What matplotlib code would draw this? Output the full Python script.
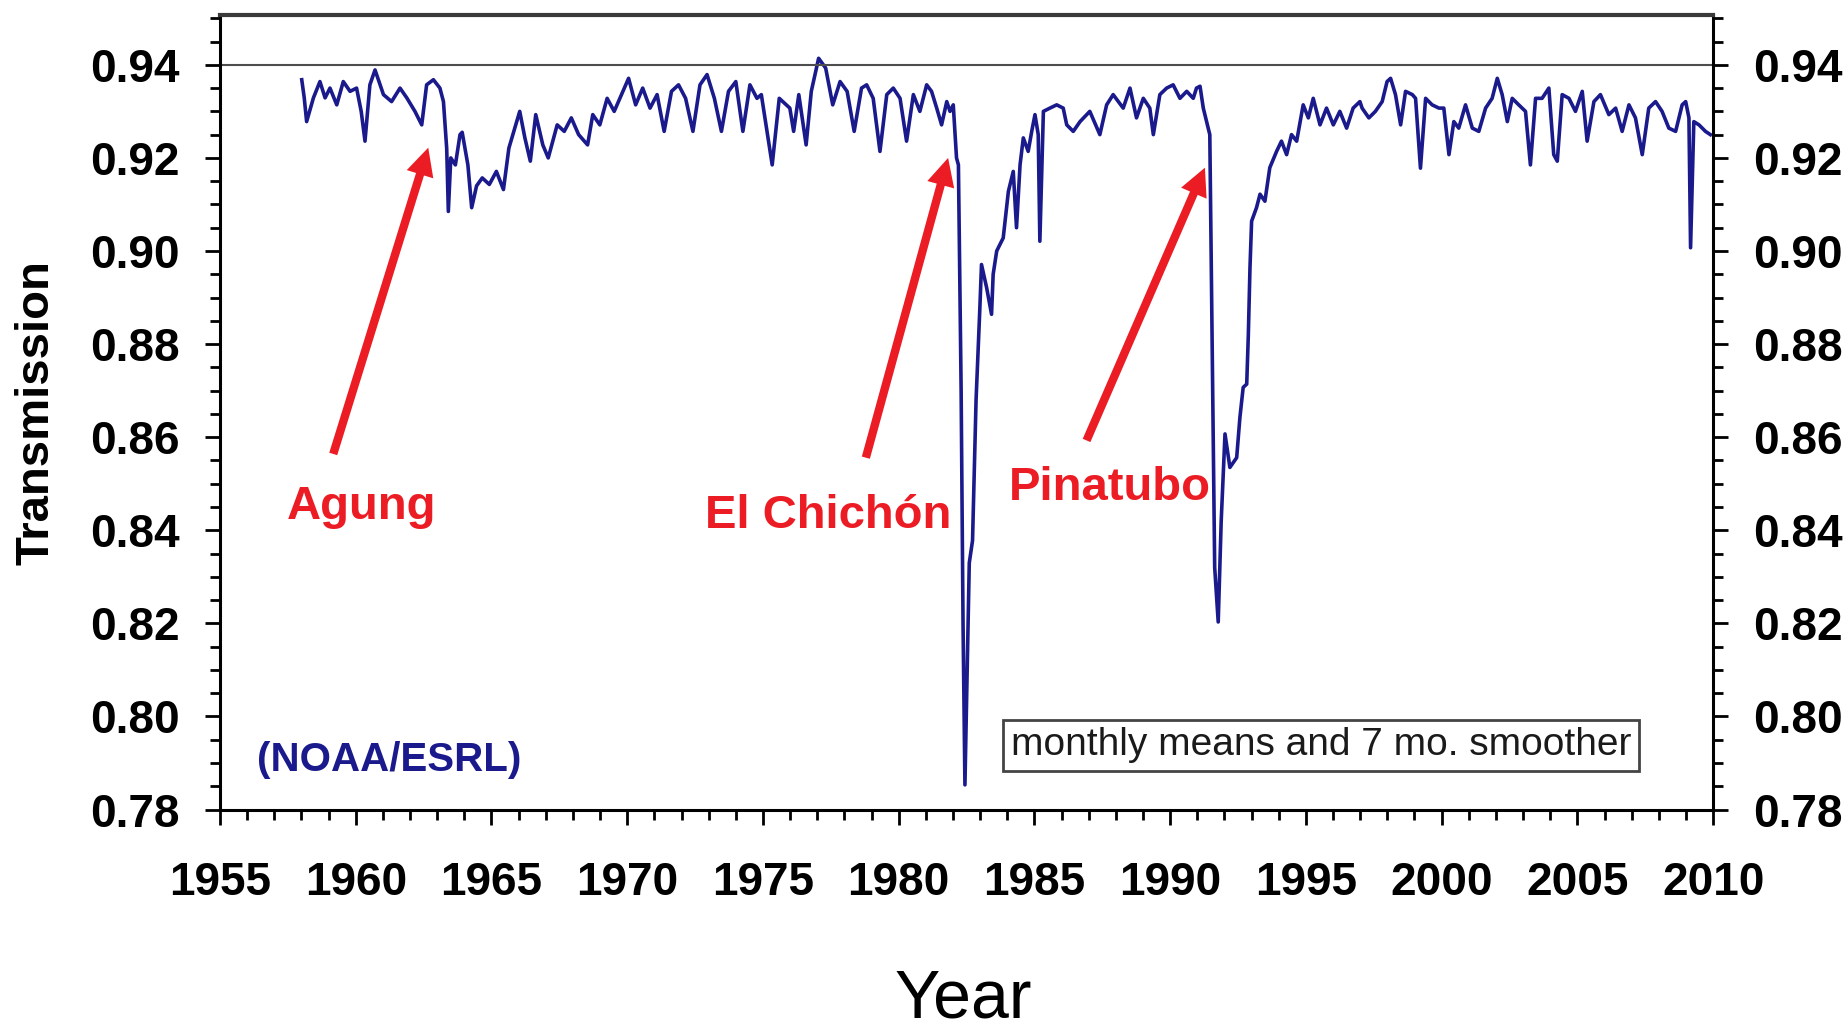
import numpy as np
import matplotlib.pyplot as plt
from matplotlib.ticker import MultipleLocator, FormatStrFormatter

plt.rcParams['font.family'] = ['Liberation Sans', 'DejaVu Sans']
plt.rcParams['font.weight'] = 'bold'

# Mauna Loa apparent transmission (decimal year, value)
years_pre_agung = [1958.01, 1958.10, 1958.19, 1958.44, 1958.68, 1958.87, 1959.05, 1959.30,
                   1959.54, 1959.79, 1960.03, 1960.20, 1960.34, 1960.52, 1960.71, 1961.02,
                   1961.32, 1961.63, 1961.88, 1962.18, 1962.43, 1962.61, 1962.86, 1963.10,
                   1963.23]
trans_pre_agung = [0.9368, 0.9330, 0.9278, 0.9329, 0.9364, 0.9329, 0.9350, 0.9314,
                   0.9364, 0.9343, 0.9350, 0.9300, 0.9236, 0.9357, 0.9389, 0.9336,
                   0.9321, 0.9350, 0.9329, 0.9300, 0.9271, 0.9357, 0.9368, 0.9350,
                   0.9321]

years_agung = [1963.35, 1963.41, 1963.50, 1963.67, 1963.84, 1963.92, 1964.13, 1964.27,
               1964.45, 1964.66, 1964.92, 1965.18, 1965.44, 1965.64, 1966.04, 1966.23,
               1966.43, 1966.63, 1966.89, 1967.09, 1967.42, 1967.68, 1967.94, 1968.21,
               1968.54, 1968.73, 1968.99, 1969.26, 1969.52, 1969.79]
trans_agung = [0.9220, 0.9085, 0.9200, 0.9185, 0.9250, 0.9255, 0.9185, 0.9093,
               0.9140, 0.9157, 0.9143, 0.9171, 0.9132, 0.9221, 0.9300, 0.9243,
               0.9193, 0.9293, 0.9228, 0.9200, 0.9271, 0.9257, 0.9286, 0.9250,
               0.9228, 0.9293, 0.9271, 0.9328, 0.9300, 0.9336]

years_seventies = [1970.05, 1970.31, 1970.57, 1970.84, 1971.10, 1971.36, 1971.63, 1971.89,
                   1972.15, 1972.42, 1972.68, 1972.94, 1973.21, 1973.47, 1973.73, 1974.00,
                   1974.26, 1974.52, 1974.78, 1974.94, 1975.34, 1975.60, 1975.99, 1976.13,
                   1976.32, 1976.59, 1976.78, 1977.05, 1977.31, 1977.57, 1977.84, 1978.10,
                   1978.36, 1978.63, 1978.82, 1979.06, 1979.31, 1979.56, 1979.80, 1980.05,
                   1980.29, 1980.54, 1980.78, 1981.03, 1981.21, 1981.40, 1981.58, 1981.77,
                   1981.89, 1982.01, 1982.13, 1982.20]
trans_seventies = [0.9371, 0.9314, 0.9350, 0.9307, 0.9336, 0.9257, 0.9343, 0.9357,
                   0.9328, 0.9257, 0.9357, 0.9379, 0.9328, 0.9257, 0.9343, 0.9364,
                   0.9257, 0.9357, 0.9328, 0.9336, 0.9185, 0.9328, 0.9307, 0.9257,
                   0.9336, 0.9228, 0.9343, 0.9414, 0.9393, 0.9314, 0.9364, 0.9343,
                   0.9257, 0.9350, 0.9357, 0.9328, 0.9214, 0.9336, 0.9350, 0.9328,
                   0.9236, 0.9336, 0.9300, 0.9357, 0.9343, 0.9307, 0.9271, 0.9321,
                   0.9300, 0.9314, 0.9200, 0.9185]

years_chichon = [1982.30, 1982.37, 1982.44, 1982.60, 1982.72, 1982.85, 1982.99, 1983.05,
                 1983.24, 1983.42, 1983.48, 1983.61, 1983.85, 1984.04, 1984.22, 1984.34,
                 1984.47, 1984.59, 1984.77, 1984.90, 1985.02, 1985.14, 1985.20, 1985.33,
                 1985.57, 1985.82, 1986.06, 1986.19, 1986.43, 1986.68, 1987.04, 1987.41,
                 1987.66, 1987.90, 1988.27, 1988.52, 1988.76, 1989.01, 1989.25, 1989.38,
                 1989.62, 1989.87, 1990.11, 1990.36, 1990.61, 1990.85, 1990.97, 1991.10,
                 1991.22, 1991.34, 1991.46]
trans_chichon = [0.8700, 0.8200, 0.7853, 0.8330, 0.8378, 0.8680, 0.8878, 0.8971,
                 0.8921, 0.8864, 0.8950, 0.9000, 0.9028, 0.9128, 0.9171, 0.9050,
                 0.9185, 0.9243, 0.9214, 0.9257, 0.9293, 0.9250, 0.9021, 0.9300,
                 0.9307, 0.9314, 0.9307, 0.9271, 0.9257, 0.9278, 0.9300, 0.9250,
                 0.9314, 0.9336, 0.9307, 0.9350, 0.9286, 0.9328, 0.9307, 0.9250,
                 0.9336, 0.9350, 0.9357, 0.9328, 0.9343, 0.9328, 0.9350, 0.9354,
                 0.9307, 0.9278, 0.9250]

years_pinatubo = [1991.55, 1991.64, 1991.77, 1991.88, 1992.02, 1992.20, 1992.45, 1992.57,
                  1992.69, 1992.82, 1992.88, 1992.94, 1993.00, 1993.18, 1993.31, 1993.49,
                  1993.67, 1993.92, 1994.10, 1994.29, 1994.47, 1994.66, 1994.90, 1995.09,
                  1995.27, 1995.52, 1995.76, 1996.01, 1996.25, 1996.50, 1996.74, 1996.99]
trans_pinatubo = [0.8780, 0.8320, 0.8203, 0.8420, 0.8607, 0.8535, 0.8556, 0.8643,
                  0.8707, 0.8714, 0.8821, 0.8964, 0.9064, 0.9093, 0.9122, 0.9107,
                  0.9179, 0.9214, 0.9236, 0.9207, 0.9250, 0.9236, 0.9314, 0.9286,
                  0.9328, 0.9271, 0.9307, 0.9271, 0.9300, 0.9264, 0.9307, 0.9321]

years_recent = [1997.07, 1997.32, 1997.56, 1997.81, 1997.99, 1998.12, 1998.30, 1998.49,
                1998.67, 1998.92, 1999.04, 1999.22, 1999.41, 1999.65, 1999.90, 2000.08,
                2000.27, 2000.45, 2000.63, 2000.88, 2001.13, 2001.37, 2001.62, 2001.86,
                2002.05, 2002.23, 2002.42, 2002.60, 2002.84, 2003.09, 2003.27, 2003.46,
                2003.70, 2003.95, 2004.13, 2004.26, 2004.44, 2004.69, 2004.93, 2005.18,
                2005.36, 2005.61, 2005.85, 2006.16, 2006.41, 2006.65, 2006.90, 2007.14,
                2007.39, 2007.63, 2007.88, 2008.12, 2008.37, 2008.62, 2008.86, 2008.99,
                2009.11, 2009.17, 2009.29, 2009.48, 2009.72, 2009.90]
trans_recent = [0.9307, 0.9286, 0.9300, 0.9321, 0.9364, 0.9371, 0.9336, 0.9271,
                0.9343, 0.9336, 0.9328, 0.9178, 0.9328, 0.9314, 0.9307, 0.9307,
                0.9207, 0.9278, 0.9264, 0.9314, 0.9264, 0.9257, 0.9307, 0.9328,
                0.9371, 0.9336, 0.9278, 0.9328, 0.9314, 0.9300, 0.9185, 0.9328,
                0.9328, 0.9350, 0.9207, 0.9193, 0.9336, 0.9328, 0.9300, 0.9343,
                0.9236, 0.9321, 0.9336, 0.9293, 0.9307, 0.9257, 0.9314, 0.9286,
                0.9207, 0.9307, 0.9321, 0.9300, 0.9264, 0.9257, 0.9314, 0.9321,
                0.9286, 0.9007, 0.9278, 0.9271, 0.9257, 0.9250]

years = np.concatenate([years_pre_agung, years_agung, years_seventies,
                        years_chichon, years_pinatubo, years_recent])
trans = np.concatenate([trans_pre_agung, trans_agung, trans_seventies,
                        trans_chichon, trans_pinatubo, trans_recent])

navy = '#1a1a8c'
red = '#ec1c24'

fig = plt.figure(figsize=(18.49, 10.36), dpi=100)
ax = fig.add_axes([0.119, 0.2186, 0.8075, 0.7669])

ax.plot(years, trans, color=navy, lw=2.6)
ax.axhline(0.94, color='#4d4d4d', lw=1.5)

ax.set_xlim(1955, 2010)
ax.set_ylim(0.78, 0.9507)

for side in ['left', 'right', 'bottom']:
    ax.spines[side].set_linewidth(2.2)
ax.spines['top'].set_linewidth(3)
ax.spines['top'].set_color('#3a3a3a')

ax.xaxis.set_major_locator(MultipleLocator(5))
ax.xaxis.set_minor_locator(MultipleLocator(1))
ax.yaxis.set_major_locator(MultipleLocator(0.02))
ax.yaxis.set_minor_locator(MultipleLocator(0.005))
ax.yaxis.set_major_formatter(FormatStrFormatter('%.2f'))

ax.tick_params(which='both', direction='out', width=2, top=False,
               left=True, right=True, labelleft=True, labelright=True)
ax.tick_params(which='major', length=11)
ax.tick_params(which='minor', length=7)
ax.tick_params(axis='y', pad=18, labelsize=33)
ax.tick_params(axis='x', pad=26, labelsize=33)

ax.set_ylabel('Transmission', fontsize=34, fontweight='bold')
ax.yaxis.set_label_coords(-0.1232, 0.5)
ax.yaxis.label.set_va('center')

ax.set_xlabel('Year', fontsize=49, fontweight='normal')
ax.xaxis.set_label_coords(0.4977, -0.262)
ax.xaxis.label.set_va('baseline')

# volcano arrows and labels
arrow_style = 'simple,head_length=1.0,head_width=1.0,tail_width=0.3'
volcanoes = [
    ('Agung', (1960.22, 0.8425), (1959.17, 0.8564), (1962.67, 0.9222)),
    ('El Chichón', (1977.41, 0.8404), (1978.79, 0.8556), (1981.82, 0.9200)),
    ('Pinatubo', (1987.78, 0.8466), (1986.92, 0.8593), (1991.28, 0.9179)),
]
for name, txt_pos, tail, tip in volcanoes:
    ax.annotate('', xy=tip, xytext=tail,
                arrowprops=dict(arrowstyle=arrow_style, color=red, lw=0,
                                mutation_scale=20, shrinkA=0, shrinkB=0))
    ax.text(txt_pos[0], txt_pos[1], name, color=red, fontsize=34,
            fontweight='bold', ha='center', va='baseline')

ax.text(1956.36, 0.7883, '(NOAA/ESRL)', color=navy, fontsize=29,
        fontweight='bold', ha='left', va='baseline')

ax.text(1995.55, 0.7938, 'monthly means and 7 mo. smoother', color='#1a1a1a',
        fontsize=28, fontweight='normal', ha='center', va='center',
        bbox=dict(boxstyle='square,pad=0.2', fc='white', ec='#444444', lw=2))

fig.savefig('out.png', dpi=100)
